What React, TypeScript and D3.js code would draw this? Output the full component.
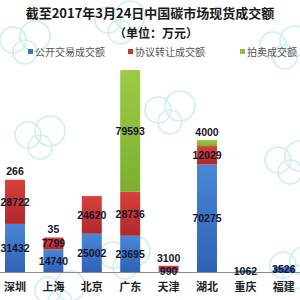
import React from "react";
import * as d3 from "d3";

const categories = ["深圳", "上海", "北京", "广东", "天津", "湖北", "重庆", "福建"];
const publicVals = [31432, 14740, 25002, 23695, 990, 70275, 1062, 3526];
const agreementVals = [28722, 7799, 24620, 28736, 3100, 12029, 0, 0];
const auctionVals = [266, 35, 0, 79593, 0, 4000, 0, 0];
const seriesNames = ["公开交易成交额", "协议转让成交额", "拍卖成交额"];
const titleText = "截至2017年3月24日中国碳市场现货成交额";
const subtitleText = "（单位：万元）";

const colors = [
  ["#4a86d6", "#2f62b4"],
  ["#d8403c", "#b0282a"],
  ["#9ccb45", "#7dae2f"],
];
const legendColors = ["#3b6fc0", "#c63535", "#8cbf3f"];

const clouds = [
  [25, 40], [120, 20], [285, 45], [40, 135], [125, 255], [290, 160], [295, 265], [170, 110], [60, 290],
];

export default function App() {
  const W = 300, H = 300;
  const baseline = 272;
  const x = d3.scaleBand<string>().domain(categories).range([-4.2, 303]).paddingInner(0).paddingOuter(0);
  const y = d3.scaleLinear().domain([0, 140000]).range([baseline, baseline - 140000 * 0.00153]);
  const barW = x.step() * 0.52;

  const rows = categories.map((c, i) => ({
    cat: c,
    s0: publicVals[i],
    s1: agreementVals[i],
    s2: auctionVals[i],
  }));
  const stack = d3.stack<any>().keys(["s0", "s1", "s2"]);
  const layers = stack(rows);

  return (
    <svg width={W} height={H} style={{ position: "absolute", left: 0, top: 0, background: "#fff" }}
      fontFamily="'Liberation Sans', Arial, 'Noto Sans CJK SC', sans-serif">
      <defs>
        {colors.map((c, i) => (
          <linearGradient key={i} id={`g${i}`} x1="0" y1="0" x2="0" y2="1">
            <stop offset="0%" stopColor={c[0]} />
            <stop offset="100%" stopColor={c[1]} />
          </linearGradient>
        ))}
      </defs>
      <rect x={0} y={0} width={W} height={H} fill="#fff" />
      {clouds.map(([cx, cy], i) => (
        <g key={i} fill="none" stroke="#cdeeee" strokeWidth={1.6}>
          <circle cx={cx - 12} cy={cy} r={13} />
          <circle cx={cx + 10} cy={cy - 4} r={15} />
          <circle cx={cx} cy={cy + 12} r={12} />
        </g>
      ))}
      <text x={150} y={18} textAnchor="middle" fontSize={13} fontWeight="bold" fill="#1a1a1a"
        fontFamily="'Noto Sans CJK SC', sans-serif">{titleText}</text>
      <text x={156} y={38} textAnchor="middle" fontSize={12} fontWeight="bold" fill="#1a1a1a"
        fontFamily="'Noto Sans CJK SC', sans-serif">{subtitleText}</text>
      {seriesNames.map((n, i) => {
        const lx = [28, 128, 240][i];
        return (
          <g key={n}>
            <rect x={lx} y={49} width={5} height={5} fill={legendColors[i]} />
            <text x={lx + 7} y={55.5} fontSize={10} fill="#555"
              fontFamily="'Noto Sans CJK SC', sans-serif">{n}</text>
          </g>
        );
      })}
      {layers.map((layer, li) => (
        <g key={li}>
          {layer.map((d, i) => {
            const v = d[1] - d[0];
            if (v <= 0) return null;
            const cx = (x(categories[i]) as number) + x.step() / 2;
            return (
              <rect key={i} x={cx - barW / 2} y={y(d[1])} width={barW} height={y(d[0]) - y(d[1])}
                fill={`url(#g${li})`} />
            );
          })}
        </g>
      ))}
      <line x1={0} x2={W} y1={baseline + 0.5} y2={baseline + 0.5} stroke="#8a8a8a" strokeWidth={1} />
      {layers.map((layer, li) => (
        <g key={"l" + li}>
          {layer.map((d, i) => {
            const v = d[1] - d[0];
            if (v <= 0) return null;
            const cx = (x(categories[i]) as number) + x.step() / 2;
            const h = y(d[0]) - y(d[1]);
            let ly = (y(d[0]) + y(d[1])) / 2;
            if (li > 0 && h < 10) ly = y(d[1]) - 8;
            return (
              <text key={i} x={cx} y={ly} dy="0.36em" textAnchor="middle" fontSize={10.5}
                fontWeight="bold" fill="#14142a">{v}</text>
            );
          })}
        </g>
      ))}
      {categories.map((c) => (
        <text key={c} x={(x(c) as number) + x.step() / 2} y={287} dy="0.36em" textAnchor="middle"
          fontSize={11} fontWeight="bold" fill="#222"
          fontFamily="'Noto Sans CJK SC', sans-serif">{c}</text>
      ))}
    </svg>
  );
}
